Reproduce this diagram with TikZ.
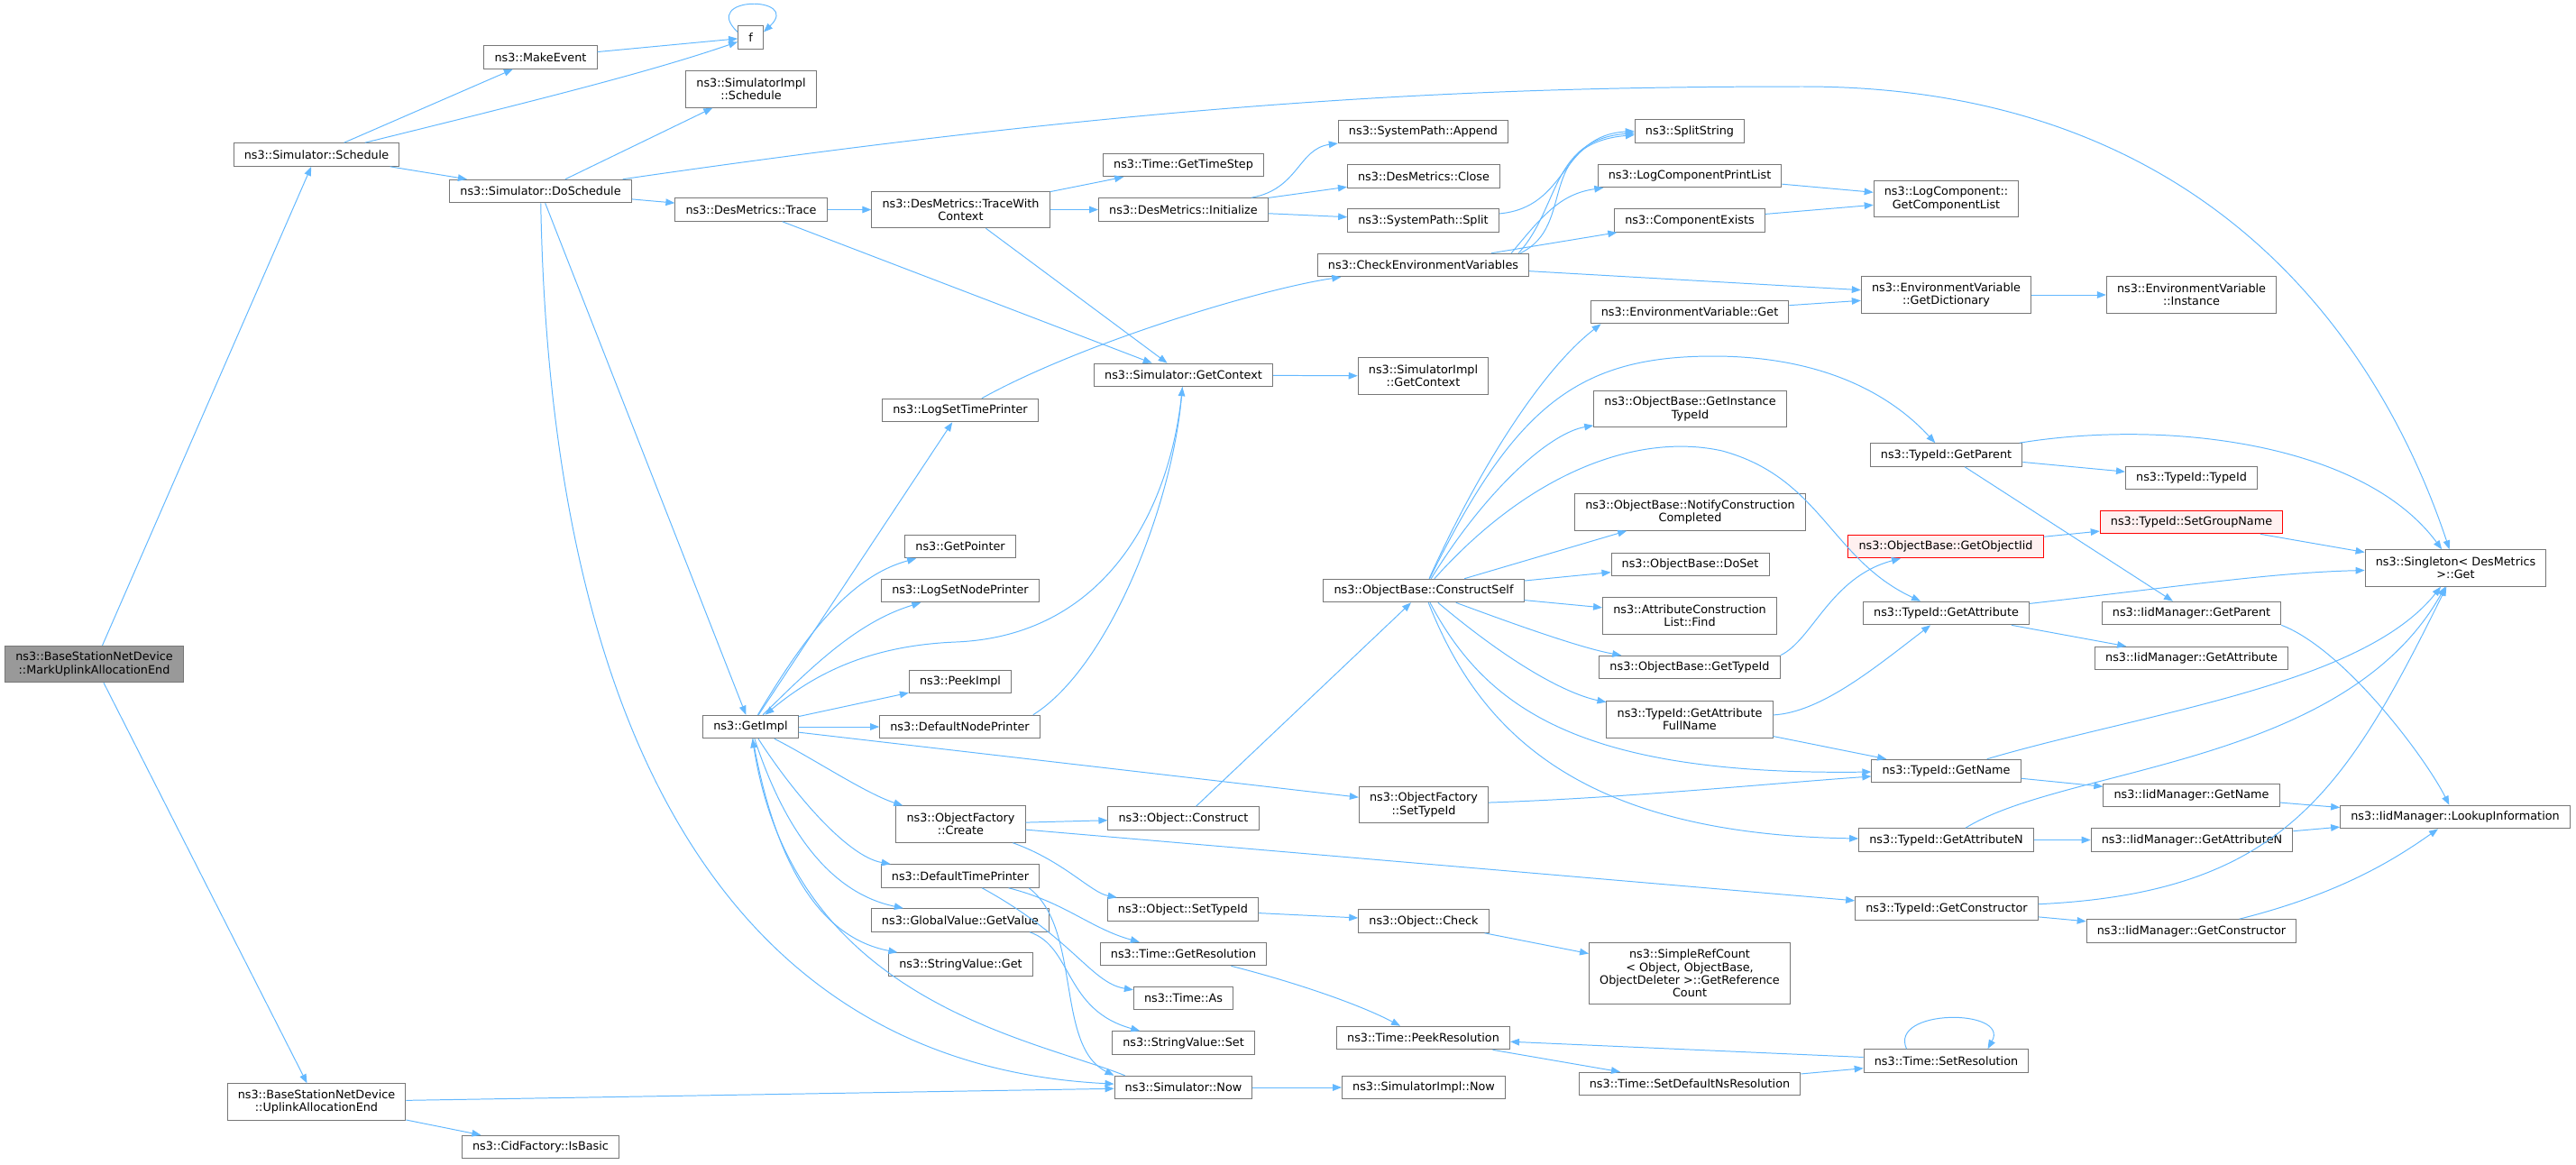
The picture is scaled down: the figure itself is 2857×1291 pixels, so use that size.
\documentclass[tikz,border=0pt]{standalone}
\usepackage{fontspec}
\setmainfont{DejaVu Sans}
\usepackage{tikz}
\usetikzlibrary{arrows.meta}
\definecolor{edgeblue}{HTML}{63B8FF}
\definecolor{boxgray}{HTML}{777777}
\definecolor{rootgray}{HTML}{999999}
\definecolor{redfill}{HTML}{FFF0F0}

\begin{document}
\begin{tikzpicture}[x=0.025cm, y=-0.025cm,
	fn/.style={draw=boxgray, fill=white, line width=0.7pt, inner xsep=8.3pt, inner ysep=1pt, minimum height=0.64cm, align=center, font=\fontsize{9.1}{10.2}\selectfont},
	fn2/.style={fn, minimum height=1.01cm},
	fn4/.style={fn, minimum height=1.72cm},
	rootfn/.style={fn2, fill=rootgray},
	redfn/.style={fn, draw=red, fill=redfill},
	call/.style={->, draw=edgeblue, line width=0.7pt},
	>={Triangle[length=0.25cm, width=0.19cm]}]
					\useasboundingbox (0,0) rectangle (2857,1291);
					\node[rootfn] (root) at (104.5,736.5) {ns3::BaseStationNetDevice\\::MarkUplinkAllocationEnd};
					\node[fn] (sched) at (351,171.5) {ns3::Simulator::Schedule};
					\node[fn2] (upl) at (351,1222) {ns3::BaseStationNetDevice\\::UplinkAllocationEnd};
					\node[fn] (mkev) at (599.5,63.5) {ns3::MakeEvent};
					\node[fn] (dosch) at (599.5,212) {ns3::Simulator::DoSchedule};
					\node[fn] (isbasic) at (599.5,1272) {ns3::CidFactory::IsBasic};
					\node[fn] (f) at (832.5,41.5) {f};
					\node[fn2] (implsch) at (833,99) {ns3::SimulatorImpl\\::Schedule};
					\node[fn] (trace) at (833,232.5) {ns3::DesMetrics::Trace};
					\node[fn] (getimpl) at (832.5,806) {ns3::GetImpl};
					\node[fn2] (twc) at (1065.5,232.5) {ns3::DesMetrics::TraceWith\\Context};
					\node[fn] (logtp) at (1065,455) {ns3::LogSetTimePrinter};
					\node[fn] (getptr) at (1065,606) {ns3::GetPointer};
					\node[fn] (lognp) at (1065,655) {ns3::LogSetNodePrinter};
					\node[fn] (peek) at (1065,756) {ns3::PeekImpl};
					\node[fn] (dnp) at (1064.5,806) {ns3::DefaultNodePrinter};
					\node[fn2] (ofcreate) at (1065.5,914) {ns3::ObjectFactory\\::Create};
					\node[fn] (dtp) at (1065,971.5) {ns3::DefaultTimePrinter};
					\node[fn] (gvget) at (1065,1020.5) {ns3::GlobalValue::GetValue};
					\node[fn] (svget) at (1065.5,1069.5) {ns3::StringValue::Get};
					\node[fn] (timestep) at (1312.5,183) {ns3::Time::GetTimeStep};
					\node[fn] (init) at (1312.5,232.5) {ns3::DesMetrics::Initialize};
					\node[fn] (getctx) at (1312.5,416) {ns3::Simulator::GetContext};
					\node[fn] (construct) at (1312.5,907.5) {ns3::Object::Construct};
					\node[fn] (objsettid) at (1312,1008.5) {ns3::Object::SetTypeId};
					\node[fn] (getres) at (1312.5,1058) {ns3::Time::GetResolution};
					\node[fn] (timeas) at (1312.5,1107) {ns3::Time::As};
					\node[fn] (svset) at (1312.5,1156.5) {ns3::StringValue::Set};
					\node[fn] (now) at (1312.5,1206) {ns3::Simulator::Now};
					\node[fn] (append) at (1578.5,146) {ns3::SystemPath::Append};
					\node[fn] (close) at (1579,195.5) {ns3::DesMetrics::Close};
					\node[fn] (split) at (1578.5,244.5) {ns3::SystemPath::Split};
					\node[fn] (checkenv) at (1578.5,294) {ns3::CheckEnvironmentVariables};
					\node[fn2] (implctx) at (1578.5,417) {ns3::SimulatorImpl\\::GetContext};
					\node[fn] (constself) at (1579,655) {ns3::ObjectBase::ConstructSelf};
					\node[fn2] (ofsettid) at (1579,892.5) {ns3::ObjectFactory\\::SetTypeId};
					\node[fn] (check) at (1579,1021.5) {ns3::Object::Check};
					\node[fn] (peekres) at (1578.5,1151) {ns3::Time::PeekResolution};
					\node[fn] (implnow) at (1579,1206) {ns3::SimulatorImpl::Now};
					\node[fn] (splitstr) at (1874,145.5) {ns3::SplitString};
					\node[fn] (logcpl) at (1874,195) {ns3::LogComponentPrintList};
					\node[fn] (compex) at (1874,244.5) {ns3::ComponentExists};
					\node[fn] (envget) at (1874,346) {ns3::EnvironmentVariable::Get};
					\node[fn2] (getinst) at (1874.5,453.5) {ns3::ObjectBase::GetInstance\\TypeId};
					\node[fn2] (notify) at (1874.5,568) {ns3::ObjectBase::NotifyConstruction\\Completed};
					\node[fn] (doset) at (1874.5,626) {ns3::ObjectBase::DoSet};
					\node[fn2] (find) at (1874,683) {ns3::AttributeConstruction\\List::Find};
					\node[fn] (obgettid) at (1874,740) {ns3::ObjectBase::GetTypeId};
					\node[fn2] (fullname) at (1874,798) {ns3::TypeId::GetAttribute\\FullName};
					\node[fn4] (refcount) at (1874,1079.5) {ns3::SimpleRefCount\\< Object, ObjectBase,\\ObjectDeleter >::GetReference\\Count};
					\node[fn] (setdefns) at (1874,1202) {ns3::Time::SetDefaultNsResolution};
					\node[fn2] (complist) at (2158.5,220.5) {ns3::LogComponent::\\GetComponentList};
					\node[fn2] (getdict) at (2158.5,327) {ns3::EnvironmentVariable\\::GetDictionary};
					\node[fn] (tgetparent) at (2158.5,504.5) {ns3::TypeId::GetParent};
					\node[redfn] (getobjiid) at (2158,606) {ns3::ObjectBase::GetObjectIid};
					\node[fn] (tgetattr) at (2158.5,680) {ns3::TypeId::GetAttribute};
					\node[fn] (tgetname) at (2158.5,855) {ns3::TypeId::GetName};
					\node[fn] (tgetattrn) at (2158.5,931.5) {ns3::TypeId::GetAttributeN};
					\node[fn] (tgetctor) at (2159,1007.5) {ns3::TypeId::GetConstructor};
					\node[fn] (setres) at (2158.5,1176.5) {ns3::Time::SetResolution};
					\node[fn2] (instance) at (2430.5,327) {ns3::EnvironmentVariable\\::Instance};
					\node[fn] (typeid) at (2430.5,530) {ns3::TypeId::TypeId};
					\node[redfn] (setgroup) at (2430.5,579) {ns3::TypeId::SetGroupName};
					\node[fn] (iidparent) at (2430.5,680) {ns3::IidManager::GetParent};
					\node[fn] (iidattr) at (2430.5,730) {ns3::IidManager::GetAttribute};
					\node[fn] (iidname) at (2430.5,882) {ns3::IidManager::GetName};
					\node[fn] (iidattrn) at (2431,931.5) {ns3::IidManager::GetAttributeN};
					\node[fn] (iidctor) at (2430.5,1032.5) {ns3::IidManager::GetConstructor};
					\node[fn2] (singleton) at (2723.5,630) {ns3::Singleton< DesMetrics\\>::Get};
					\node[fn] (lookup) at (2723,906) {ns3::IidManager::LookupInformation};
					\draw[call] (root) -- (sched);\draw[call] (root) -- (upl);
					\draw[call] (sched) -- (mkev);\draw[call] (sched) .. controls (600,110) and (720,80) .. (f);\draw[call] (sched) -- (dosch);
					\draw[call] (mkev) -- (f);\draw[call] ([yshift=0.15cm]f.west) .. controls (775,-5) and (890,-5) .. ([yshift=0.15cm]f.east);
					\draw[call] (dosch) -- (implsch);\draw[call] (dosch) -- (trace);\draw[call] (dosch) -- (getimpl);
					\draw[call] (dosch) .. controls (1300,110) and (1650,96) .. (2000,96) .. controls (2450,96) and (2640,380) .. (singleton);
					\draw[call] (dosch) .. controls (610,800) and (800,1180) .. (now);
					\draw[call] (trace) -- (twc);\draw[call] (trace) -- (getctx);
					\draw[call] (twc) -- (timestep);\draw[call] (twc) -- (init);\draw[call] (twc) -- (getctx);
					\draw[call] (init) .. controls (1440,210) and (1440,165) .. (append);\draw[call] (init) -- (close);\draw[call] (init) -- (split);
					\draw[call] (split) .. controls (1740,230) and (1730,150) .. (splitstr.west);
					\draw[call] ([xshift=-0.3cm]checkenv.north east) .. controls (1730,230) and (1720,155) .. ([yshift=-0.05cm]splitstr.west);
					\draw[call] ([xshift=-0.25cm]checkenv.north east) .. controls (1750,250) and (1700,160) .. ([yshift=-0.1cm]splitstr.west);
					\draw[call] ([xshift=-0.5cm]checkenv.north east) .. controls (1710,240) and (1730,215) .. (logcpl);
					\draw[call] ([xshift=-1.05cm]checkenv.north east) -- (compex);\draw[call] (checkenv) -- (getdict);
					\draw[call] (logcpl) -- (complist);\draw[call] (compex) -- (complist);\draw[call] (envget) -- (getdict);\draw[call] (getdict) -- (instance);
					\draw[call] (logtp) .. controls (1200,380) and (1400,320) .. (checkenv);
					\draw[call] (getctx) -- (implctx);\draw[call] (getctx) .. controls (1300,560) and (1230,705) .. (1060,712) .. controls (960,716) and (900,750) .. (getimpl);
					\draw[call] (getimpl) -- (logtp);\draw[call] (getimpl) .. controls (890,710) and (940,640) .. (getptr);\draw[call] (getimpl) .. controls (900,740) and (950,690) .. (lognp);
					\draw[call] (getimpl) -- (peek);\draw[call] (getimpl) -- (dnp);\draw[call] (getimpl) -- (ofsettid);
					\draw[call] (getimpl) .. controls (900,840) and (960,880) .. (ofcreate);\draw[call] (getimpl) .. controls (880,880) and (940,950) .. (dtp);
					\draw[call] (getimpl) .. controls (870,920) and (920,990) .. (gvget);\draw[call] (getimpl) .. controls (860,960) and (910,1040) .. (svget);
					\draw[call] ([xshift=-0.2cm]dnp.north east) .. controls (1230,740) and (1300,560) .. (getctx);
					\draw[call] ([xshift=0.3cm]now.north west) .. controls (1140,1150) and (880,1110) .. (getimpl);
					\draw[call] (now) -- (implnow);\draw[call] (upl) -- (now);\draw[call] (upl) -- (isbasic);
					\draw[call] (ofcreate) -- (construct);\draw[call] (ofcreate) .. controls (1180,955) and (1210,990) .. (objsettid);\draw[call] (ofcreate) -- (tgetctor);
					\draw[call] (construct) -- (constself);\draw[call] (ofsettid) .. controls (1800,885) and (1950,870) .. (tgetname);
					\draw[call] (objsettid) -- (check);\draw[call] (check) -- (refcount);
					\draw[call] ([xshift=-0.3cm]dtp.south east) .. controls (1200,1030) and (1170,1160) .. (now.north west);
					\draw[call] (dtp) .. controls (1180,1000) and (1210,1030) .. (getres);\draw[call] (dtp) .. controls (1190,1040) and (1210,1090) .. (timeas);
					\draw[call] ([xshift=-0.55cm]gvget.south east) .. controls (1190,1050) and (1180,1120) .. (svset);
					\draw[call] (getres) .. controls (1420,1085) and (1500,1110) .. (peekres);\draw[call] (peekres) -- (setdefns);
					\draw[call] (setdefns) -- (setres);\draw[call] (setres) -- (peekres);
					\draw[call] ([xshift=-1.1cm]setres.north) .. controls +(-20,-45) and +(25,-45) .. ([xshift=1.15cm]setres.north);
					\draw[call] (constself) .. controls (1640,520) and (1710,410) .. ([xshift=0.3cm]envget.south west);
					\draw[call] (constself) .. controls (1680,450) and (1750,395) .. (1900,395) .. controls (2010,395) and (2090,430) .. (tgetparent);
					\draw[call] (constself) .. controls (1650,540) and (1720,480) .. (getinst);\draw[call] (constself) -- (notify);\draw[call] (constself) -- (doset);\draw[call] (constself) -- (find);
					\draw[call] (constself) .. controls (1700,520) and (1820,480) .. (1910,500) .. controls (2020,530) and (2030,620) .. (tgetattr);
					\draw[call] (constself) .. controls (1700,700) and (1760,720) .. (obgettid);\draw[call] (constself) .. controls (1680,740) and (1740,770) .. (fullname);
					\draw[call] (constself) .. controls (1650,790) and (1760,860) .. (tgetname);\draw[call] (constself) .. controls (1640,810) and (1750,925) .. (tgetattrn);
					\draw[call] (obgettid.north east) .. controls (2010,710) and (2030,640) .. (getobjiid);
					\draw[call] (fullname) .. controls (2020,790) and (2080,740) .. (tgetattr);\draw[call] (fullname) -- (tgetname);
					\draw[call] (getobjiid) -- (setgroup);\draw[call] (setgroup) -- (singleton);
					\draw[call] (tgetparent) -- (typeid);\draw[call] (tgetparent) -- (iidparent);\draw[call] (tgetparent) .. controls (2400,465) and (2620,490) .. (singleton);
					\draw[call] (tgetattr) .. controls (2420,650) and (2520,635) .. (singleton);\draw[call] (tgetattr) -- (iidattr);
					\draw[call] (tgetname) -- (iidname);\draw[call] (tgetname) .. controls (2380,790) and (2620,760) .. (singleton);
					\draw[call] (tgetattrn) -- (iidattrn);\draw[call] (tgetattrn) .. controls (2290,850) and (2600,850) .. (singleton);
					\draw[call] (tgetctor) -- (iidctor);\draw[call] (tgetctor) .. controls (2530,990) and (2600,880) .. (singleton);
					\draw[call] (iidparent.south east) .. controls (2600,720) and (2690,840) .. (lookup);
					\draw[call] (iidname) -- (lookup);\draw[call] (iidattrn) -- (lookup);\draw[call] (iidctor) .. controls (2600,990) and (2660,950) .. (lookup);
				\end{tikzpicture}
\end{document}
